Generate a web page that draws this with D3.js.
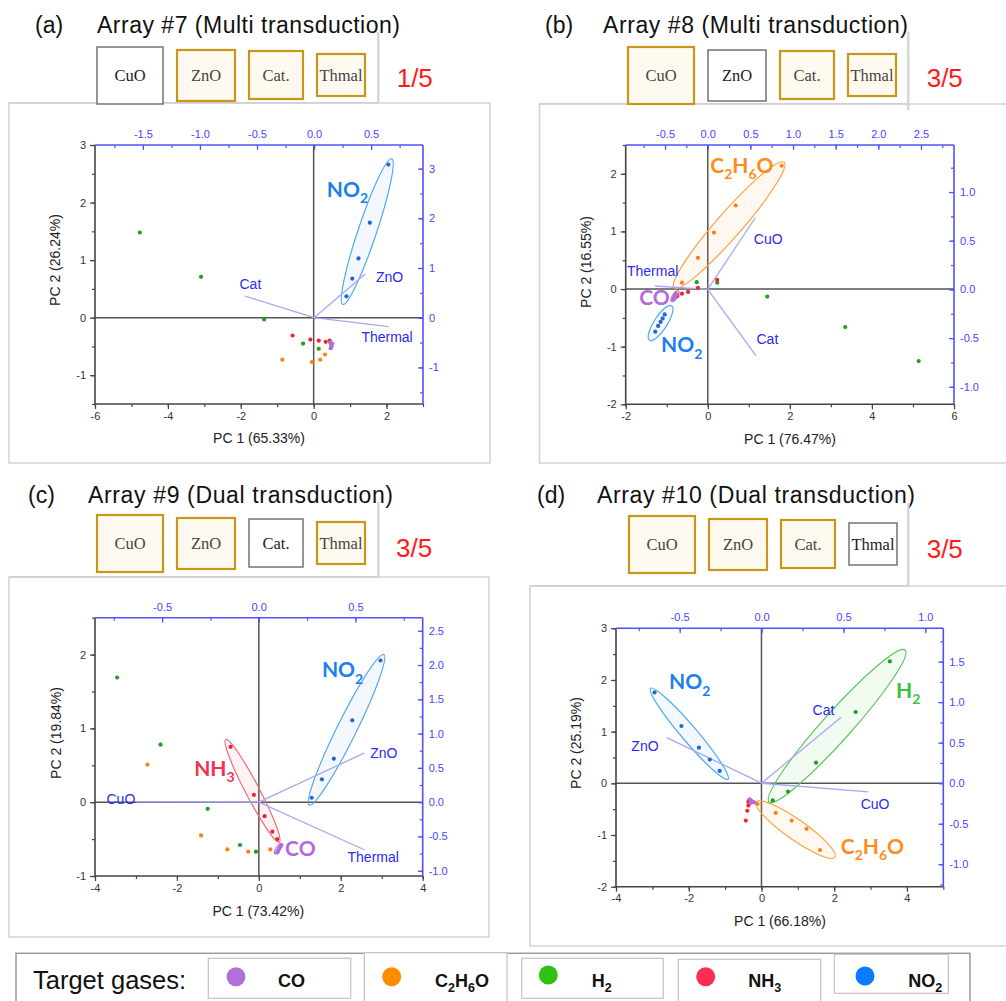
<!DOCTYPE html>
<html><head><meta charset="utf-8">
<script src="https://cdn.jsdelivr.net/npm/d3@7"></script>
<style>body{margin:0;background:#fff}svg{display:block}</style>
</head><body>
<svg id="c" width="1006" height="1001"></svg>
<script>
// ---------------- DATA ----------------
const gases = ["CO", "C2H6O", "H2", "NH3", "NO2"];
const sensorNames = ["CuO", "ZnO", "Cat.", "Thmal"];

// panel (a) Array #7
const activeA = [0, 1, 1, 1];
const scoresA = [
  ["H2",-4.77,1.48],["H2",-3.09,0.71],["H2",-1.36,-0.03],["H2",-0.29,-0.45],["H2",0.14,-0.54],
  ["NH3",-0.58,-0.31],["NH3",-0.09,-0.38],["NH3",0.14,-0.40],["NH3",0.33,-0.42],["NH3",0.44,-0.40],
  ["C2H6O",-0.86,-0.73],["C2H6O",-0.05,-0.77],["C2H6O",0.18,-0.73],["C2H6O",0.31,-0.64],
  ["CO",0.45,-0.43],["CO",0.48,-0.46],["CO",0.49,-0.50],["CO",0.47,-0.53],["CO",0.51,-0.45],
  ["NO2",2.05,2.66],["NO2",1.54,1.65],["NO2",1.23,1.03],["NO2",1.06,0.68],["NO2",0.90,0.37]
];
const loadingsA = [["Cat",-0.608,0.437,-0.558,0.58],["ZnO",0.449,0.879,0.662,0.72],["Thermal",0.653,-0.181,0.64,-0.48]];
const ellipsesA = [["NO2",0.80,0.23,2.14,2.76,0.12]];
const gasLabelsA = [["NO2",0.36,2.10]];
const xDomainA = [-6, 3], yDomainA = [-1.5, 3], topDomainA = [-1.92, 0.955], rightDomainA = [-1.736, 3.475];
const xTicksA = [-6,-4,-2,0,2], yTicksA = [-1,0,1,2,3], topTicksA = [-1.5,-1,-0.5,0,0.5], rightTicksA = [-1,0,1,2,3];

// panel (b) Array #8
const activeB = [1, 0, 1, 1];
const scoresB = [
  ["C2H6O",1.80,2.14],["C2H6O",0.68,1.45],["C2H6O",0.15,0.98],["C2H6O",-0.24,0.54],["C2H6O",-0.63,0.11],
  ["H2",-0.27,0.12],["H2",0.23,0.11],["H2",1.45,-0.13],["H2",3.35,-0.66],["H2",5.14,-1.25],
  ["NH3",0.23,0.16],["NH3",-0.24,0.02],["NH3",-0.48,-0.05],["NH3",-0.63,-0.08],["NH3",-0.74,-0.12],
  ["CO",-0.78,-0.08],["CO",-0.80,-0.12],["CO",-0.82,-0.15],["CO",-0.84,-0.18],["CO",-0.76,-0.10],
  ["NO2",-1.05,-0.44],["NO2",-1.10,-0.51],["NO2",-1.15,-0.57],["NO2",-1.21,-0.64],["NO2",-1.28,-0.74]
];
const loadingsB = [["CuO",0.558,0.736,0.71,0.47],["Cat",0.566,-0.679,0.70,-0.56],["Thermal",-0.618,0.035,-0.645,0.14]];
const ellipsesB = [["C2H6O",-0.82,0.02,1.86,2.2,0.15],["NO2",-0.88,-0.29,-1.42,-0.89,0.32],["CO",-0.72,-0.03,-0.88,-0.22,0.4]];
const gasLabelsB = [["C2H6O",0.06,2.02],["CO",-1.67,-0.28],["NO2",-1.14,-1.10]];
const xDomainB = [-2, 6], yDomainB = [-2, 2.5], topDomainB = [-0.961, 2.887], rightDomainB = [-1.18, 1.483];
const xTicksB = [-2,0,2,4,6], yTicksB = [-2,-1,0,1,2], topTicksB = [-0.5,0,0.5,1,1.5,2,2.5], rightTicksB = [-1,-0.5,0,0.5,1];

// panel (c) Array #9
const activeC = [1, 1, 0, 1];
const scoresC = [
  ["H2",-3.46,1.69],["H2",-2.40,0.78],["H2",-1.25,-0.09],["H2",-0.46,-0.58],["H2",-0.07,-0.67],
  ["C2H6O",-2.72,0.51],["C2H6O",-1.41,-0.45],["C2H6O",-0.77,-0.64],["C2H6O",-0.26,-0.67],["C2H6O",0.28,-0.64],
  ["NH3",-0.69,0.75],["NH3",-0.12,0.10],["NH3",0.14,-0.19],["NH3",0.33,-0.40],["NH3",0.45,-0.50],
  ["CO",0.45,-0.68],["CO",0.47,-0.66],["CO",0.50,-0.63],["CO",0.53,-0.60],["CO",0.55,-0.58],
  ["NO2",2.97,1.92],["NO2",2.28,1.11],["NO2",1.83,0.59],["NO2",1.54,0.31],["NO2",1.29,0.06]
];
const loadingsC = [["CuO",-0.632,0.005,-0.713,-0.03],["ZnO",0.545,0.714,0.647,0.645],["Thermal",0.549,-0.698,0.592,-0.88]];
const ellipsesC = [["NO2",1.23,-0.04,3.05,2.0,0.115],["NH3",-0.81,0.85,0.50,-0.54,0.12],["CO",0.55,-0.56,0.39,-0.70,0.35]];
const gasLabelsC = [["NO2",1.54,1.69],["NH3",-1.58,0.355],["CO",0.64,-0.73]];
const xDomainC = [-4, 4], yDomainC = [-1, 2.5], topDomainC = [-0.847, 0.848], rightDomainC = [-1.077, 2.69];
const xTicksC = [-4,-2,0,2,4], yTicksC = [-1,0,1,2], topTicksC = [-0.5,0,0.5], rightTicksC = [-1,-0.5,0,0.5,1,1.5,2,2.5];

// panel (d) Array #10
const activeD = [1, 1, 1, 0];
const scoresD = [
  ["H2",3.53,2.36],["H2",2.59,1.38],["H2",1.50,0.40],["H2",0.73,-0.16],["H2",0.31,-0.33],
  ["C2H6O",1.61,-1.29],["C2H6O",1.24,-0.88],["C2H6O",0.83,-0.72],["C2H6O",0.39,-0.57],["C2H6O",-0.11,-0.40],
  ["NH3",-0.43,-0.72],["NH3",-0.39,-0.53],["NH3",-0.36,-0.43],["NH3",-0.36,-0.36],["NH3",-0.34,-0.33],
  ["CO",-0.32,-0.31],["CO",-0.28,-0.34],["CO",-0.24,-0.36],["CO",-0.20,-0.37],["CO",-0.30,-0.38],
  ["NO2",-2.94,1.76],["NO2",-2.20,1.11],["NO2",-1.72,0.69],["NO2",-1.42,0.46],["NO2",-1.15,0.24]
];
const loadingsD = [["Cat",0.486,0.815,0.378,0.837],["ZnO",-0.579,0.563,-0.712,0.393],["CuO",0.652,-0.107,0.693,-0.323]];
const ellipsesD = [["NO2",-3.05,1.84,-0.92,0.08,0.13],["H2",0.21,-0.36,3.95,2.58,0.14],["C2H6O",-0.14,-0.36,2.02,-1.43,0.21]];
const gasLabelsD = [["NO2",-2.54,1.82],["H2",3.70,1.66],["C2H6O",2.18,-1.37]];
const xDomainD = [-4, 5], yDomainD = [-2, 3], topDomainD = [-0.889, 1.11], rightDomainD = [-1.277, 1.911];
const xTicksD = [-4,-2,0,2,4], yTicksD = [-2,-1,0,1,2,3], topTicksD = [-0.5,0,0.5,1], rightTicksD = [-1,-0.5,0,0.5,1,1.5];

// ---------------- STYLE ----------------
const pointColor = {CO:"#b46bd8", C2H6O:"#ff7f14", H2:"#1f9f1f", NH3:"#f5222d", NO2:"#1f68d6"};
const ellipseColor = {CO:"#b57ad8", C2H6O:"#ffa040", H2:"#5cc85c", NH3:"#f06a78", NO2:"#55a8f0"};
const labelColor = {CO:"#b46bd8", C2H6O:"#ff8c1a", H2:"#3cbf3c", NH3:"#f2334f", NO2:"#1a7ff2"};
const legendColor = {CO:"#b070d8", C2H6O:"#ff8c00", H2:"#2fc114", NH3:"#ff2d52", NO2:"#0a7bff"};
const BLUE_AX = "#5050ff", DARK_AX = "#444", LOAD_LINE = "#a8a8f2", LOAD_TXT = "#2a2af0";
const GOLD = "#c8961a", SANS = "'Liberation Sans', Arial, sans-serif", SERIF = "'Liberation Serif', 'Times New Roman', serif";

const fmtI = d => (d < 0 ? "-" : "") + Math.abs(d);
const fmt1 = d => (d < 0 ? "-" : "") + Math.abs(d).toFixed(1);

const panels = [
  {tag:"(a)", title:"Array #7 (Multi transduction)", frac:"1/5", active:activeA, scores:scoresA, loadings:loadingsA,
   ellipses:ellipsesA, gasLabels:gasLabelsA, xd:xDomainA, yd:yDomainA, td:topDomainA, rd:rightDomainA,
   xt:xTicksA, yt:yTicksA, tt:topTicksA, rt:rightTicksA, steps:[1,0.5,0.25,0.5], rfmt:fmtI,
   pc1:"PC 1 (65.33%)", pc2:"PC 2 (26.24%)",
   L:{left:95, top:145, right:423, bottom:404, xt:[259,443], yt:[55,260],
      tagX:35, titleX:97, titleW:303, base:33, boxX:97, boxY:47, fracX:396.7, fracY:87.3, shX:378, shY:[32,103],
      frame:[9,103,481,360]}},
  {tag:"(b)", title:"Array #8 (Multi transduction)", frac:"3/5", active:activeB, scores:scoresB, loadings:loadingsB,
   ellipses:ellipsesB, gasLabels:gasLabelsB, xd:xDomainB, yd:yDomainB, td:topDomainB, rd:rightDomainB,
   xt:xTicksB, yt:yTicksB, tt:topTicksB, rt:rightTicksB, steps:[1,0.5,0.25,0.25], rfmt:fmt1,
   pc1:"PC 1 (76.47%)", pc2:"PC 2 (16.55%)",
   L:{left:625.7, top:145, right:954, bottom:404.3, xt:[790,444], yt:[586,262],
      tagX:545, titleX:603, titleW:305, base:33, boxX:628, boxY:47, fracX:926.7, fracY:87.3, shX:908, shY:[32,110],
      frame:[539.5,104,480,359]}},
  {tag:"(c)", title:"Array #9 (Dual transduction)", frac:"3/5", active:activeC, scores:scoresC, loadings:loadingsC,
   ellipses:ellipsesC, gasLabels:gasLabelsC, xd:xDomainC, yd:yDomainC, td:topDomainC, rd:rightDomainC,
   xt:xTicksC, yt:yTicksC, tt:topTicksC, rt:rightTicksC, steps:[1,0.5,0.25,0.25], rfmt:fmt1,
   pc1:"PC 1 (73.42%)", pc2:"PC 2 (19.84%)",
   L:{left:95, top:617.7, right:422.7, bottom:876, xt:[258.3,915.5], yt:[56,733],
      tagX:28, titleX:88, titleW:305, base:503, boxX:97, boxY:515, fracX:396, fracY:557, shX:378, shY:[502,577],
      frame:[9,577,480,360]}},
  {tag:"(d)", title:"Array #10 (Dual transduction)", frac:"3/5", active:activeD, scores:scoresD, loadings:loadingsD,
   ellipses:ellipsesD, gasLabels:gasLabelsD, xd:xDomainD, yd:yDomainD, td:topDomainD, rd:rightDomainD,
   xt:xTicksD, yt:yTicksD, tt:topTicksD, rt:rightTicksD, steps:[1,0.5,0.25,0.25], rfmt:fmt1,
   pc1:"PC 1 (66.18%)", pc2:"PC 2 (25.19%)",
   L:{left:616, top:628.3, right:943.3, bottom:886.7, xt:[780,925.5], yt:[576,743],
      tagX:537, titleX:597, titleW:318, base:503, boxX:629, boxY:516, fracX:926.7, fracY:558.3, shX:908, shY:[503,587],
      frame:[530,586,490,360]}}
];
// relative sensor box geometry [dx, dy, w, h]
const boxGeom = [[0,0,66,57],[80,3,58,51],[152,4,54,48],[220,7,48,42]];

const svg = d3.select("#c");

function addChem(textSel, s, mainSize, subSize) {
  // digits become subscripts; shift in absolute px so baseline returns exactly
  const parts = s.match(/[A-Za-z]+|\d+/g);
  const shift = mainSize * 0.3;
  let sub = false;
  parts.forEach(p => {
    const isNum = /\d/.test(p);
    const t = textSel.append("tspan").text(p);
    if (isNum) { t.attr("font-size", subSize).attr("dy", shift); sub = true; }
    else if (sub) { t.attr("dy", -shift); sub = false; }
  });
}
function minorVals(domain, step) {
  const lo = Math.ceil(Math.min(...domain) / step - 1e-9) * step;
  const hi = Math.max(...domain);
  return d3.range(lo, hi + 1e-9, step);
}

function drawPanel(p) {
  const L = p.L;
  const g = svg.append("g");
  // frame box
  g.append("rect").attr("x", L.frame[0]).attr("y", L.frame[1]).attr("width", L.frame[2]).attr("height", L.frame[3])
    .attr("fill", "none").attr("stroke", "#d2d2d2").attr("stroke-width", 1.5);
  // header
  g.append("text").attr("x", L.tagX).attr("y", L.base).text(p.tag)
    .attr("font-family", SANS).attr("font-size", 23).attr("fill", "#111");
  g.append("text").attr("x", L.titleX).attr("y", L.base).text(p.title)
    .attr("font-family", SANS).attr("font-size", 23).attr("fill", "#111")
    .attr("textLength", L.titleW).attr("lengthAdjust", "spacing");
  g.append("rect").attr("x", L.shX - 1).attr("y", L.shY[0]).attr("width", 2.5).attr("height", L.shY[1] - L.shY[0]).attr("fill", "#d6d6d6");
  g.append("rect").attr("x", L.frame[0]).attr("y", L.frame[1] - 1).attr("width", L.shX - L.frame[0]).attr("height", 1.5).attr("fill", "#cfcfcf");
  sensorNames.forEach((nm, i) => {
    const [dx, dy, w, h] = boxGeom[i];
    const on = p.active[i] === 1;
    g.append("rect").attr("x", L.boxX + dx).attr("y", L.boxY + dy).attr("width", w).attr("height", h)
      .attr("fill", on ? "#fffaf0" : "#fff").attr("stroke", on ? GOLD : "#737373").attr("stroke-width", on ? 2.2 : 1.5);
    g.append("text").attr("x", L.boxX + dx + w / 2).attr("y", L.boxY + dy + h / 2 + 5.5).attr("text-anchor", "middle")
      .attr("font-family", SERIF).attr("font-size", 16.5).attr("fill", on ? "#444" : "#222").text(nm);
  });
  g.append("text").attr("x", L.fracX).attr("y", L.fracY).text(p.frac)
    .attr("font-family", SANS).attr("font-size", 26).attr("fill", "#ff1a1a");

  // scales
  const x = d3.scaleLinear().domain(p.xd).range([L.left, L.right]);
  const y = d3.scaleLinear().domain(p.yd).range([L.bottom, L.top]);
  const tx = d3.scaleLinear().domain(p.td).range([L.left, L.right]);
  const ry = d3.scaleLinear().domain(p.rd).range([L.bottom, L.top]);

  // zero lines
  g.append("line").attr("x1", x(0)).attr("x2", x(0)).attr("y1", L.top).attr("y2", L.bottom).attr("stroke", "#555").attr("stroke-width", 1.5);
  g.append("line").attr("x1", L.left).attr("x2", L.right).attr("y1", y(0)).attr("y2", y(0)).attr("stroke", "#555").attr("stroke-width", 1.5);

  // ellipses
  p.ellipses.forEach(([gas, x1, y1, x2, y2, r]) => {
    const px1 = x(x1), py1 = y(y1), px2 = x(x2), py2 = y(y2);
    const a = Math.hypot(px2 - px1, py2 - py1) / 2;
    const ang = Math.atan2(py2 - py1, px2 - px1) * 180 / Math.PI;
    g.append("ellipse").attr("rx", a).attr("ry", a * r)
      .attr("transform", `translate(${(px1 + px2) / 2},${(py1 + py2) / 2}) rotate(${ang})`)
      .attr("fill", ellipseColor[gas]).attr("fill-opacity", 0.08)
      .attr("stroke", ellipseColor[gas]).attr("stroke-width", 1.2);
  });

  // loadings
  p.loadings.forEach(([nm, lx, ly, tlx, tly]) => {
    g.append("line").attr("x1", tx(0)).attr("y1", ry(0)).attr("x2", tx(lx)).attr("y2", ry(ly))
      .attr("stroke", LOAD_LINE).attr("stroke-width", 1.3);
    g.append("text").attr("x", tx(tlx)).attr("y", ry(tly)).attr("text-anchor", "middle")
      .attr("font-family", SANS).attr("font-size", 14).attr("fill", LOAD_TXT).text(nm);
  });

  // points
  g.selectAll("circle.pt").data(p.scores).join("circle").attr("class", "pt")
    .attr("cx", d => x(d[1])).attr("cy", d => y(d[2])).attr("r", 2.1).attr("fill", d => pointColor[d[0]]);

  // gas labels
  p.gasLabels.forEach(([gas, gx, gy]) => {
    const t = g.append("text").attr("x", x(gx)).attr("y", y(gy))
      .attr("font-family", "Lato, 'Open Sans', sans-serif").attr("font-weight", 700).attr("font-size", 21)
      .attr("fill", labelColor[gas]);
    addChem(t, gas, 21, 14);
  });

  // axes
  const styleAx = (sel, col) => {
    sel.select(".domain").remove();
    sel.selectAll("line").attr("stroke", col).attr("stroke-width", 1.2);
    sel.selectAll("text").attr("fill", col === BLUE_AX ? "#4646ff" : "#333").attr("font-size", 11).attr("font-family", SANS);
  };
  const minorAx = (axis, scale, vals, size, tr, col) => {
    g.append("g").attr("transform", tr).call(axis(scale).tickValues(vals).tickSize(size).tickFormat(""))
      .call(s => styleAx(s, col));
  };
  minorAx(d3.axisBottom, x, minorVals(p.xd, p.steps[0]), 3, `translate(0,${L.bottom})`, DARK_AX);
  minorAx(d3.axisLeft, y, minorVals(p.yd, p.steps[1]), 3, `translate(${L.left},0)`, DARK_AX);
  minorAx(d3.axisTop, tx, minorVals(p.td, p.steps[2]), -3, `translate(0,${L.top})`, BLUE_AX);
  minorAx(d3.axisRight, ry, minorVals(p.rd, p.steps[3]), -3, `translate(${L.right},0)`, BLUE_AX);

  g.append("g").attr("transform", `translate(0,${L.bottom})`)
    .call(d3.axisBottom(x).tickValues(p.xt).tickSize(5).tickPadding(3).tickFormat(fmtI)).call(s => styleAx(s, DARK_AX));
  g.append("g").attr("transform", `translate(${L.left},0)`)
    .call(d3.axisLeft(y).tickValues(p.yt).tickSize(5).tickPadding(4).tickFormat(fmtI)).call(s => styleAx(s, DARK_AX));
  g.append("g").attr("transform", `translate(0,${L.top})`)
    .call(d3.axisTop(tx).tickValues(p.tt).tickSize(-5).tickPadding(7).tickFormat(fmt1)).call(s => styleAx(s, BLUE_AX));
  g.append("g").attr("transform", `translate(${L.right},0)`)
    .call(d3.axisRight(ry).tickValues(p.rt).tickSize(-5).tickPadding(6).tickFormat(p.rfmt)).call(s => styleAx(s, BLUE_AX));

  // frame lines
  g.append("line").attr("x1", L.left).attr("x2", L.left).attr("y1", L.top).attr("y2", L.bottom).attr("stroke", DARK_AX).attr("stroke-width", 1.6);
  g.append("line").attr("x1", L.left).attr("x2", L.right).attr("y1", L.bottom).attr("y2", L.bottom).attr("stroke", DARK_AX).attr("stroke-width", 1.6);
  g.append("line").attr("x1", L.left).attr("x2", L.right).attr("y1", L.top).attr("y2", L.top).attr("stroke", BLUE_AX).attr("stroke-width", 1.6);
  g.append("line").attr("x1", L.right).attr("x2", L.right).attr("y1", L.top).attr("y2", L.bottom).attr("stroke", BLUE_AX).attr("stroke-width", 1.6);

  // axis titles
  g.append("text").attr("x", L.xt[0]).attr("y", L.xt[1]).attr("text-anchor", "middle")
    .attr("font-family", SANS).attr("font-size", 14).attr("fill", "#222").text(p.pc1);
  g.append("text").attr("transform", `translate(${L.yt[0]},${L.yt[1]}) rotate(-90)`).attr("dy", "0.35em").attr("text-anchor", "middle")
    .attr("font-family", SANS).attr("font-size", 14).attr("fill", "#222").text(p.pc2);
}

panels.forEach(drawPanel);

// ---------------- LEGEND ----------------
const legendBoxes = [[208.3,958.3,142.4,40],[364.3,952.7,142.7,60],[521.7,958.3,141.6,40],[678.3,959.3,142.4,45],[834.3,954.3,114,39]];
const legendDots = [[236,976.7],[391.7,976.7],[548.3,975],[705.7,976.7],[865,976]];
const legendTextX = [278,435,591.7,748.3,908.3];
const lg = svg.append("g");
lg.append("rect").attr("x", 16).attr("y", 953.3).attr("width", 954).attr("height", 70).attr("fill", "none").attr("stroke", "#9a9a9a").attr("stroke-width", 1.5);
lg.append("text").attr("x", 33).attr("y", 989).attr("font-family", SANS).attr("font-size", 25.5).attr("fill", "#111").text("Target gases:");
gases.forEach((gas, i) => {
  const b = legendBoxes[i];
  lg.append("rect").attr("x", b[0]).attr("y", b[1]).attr("width", b[2]).attr("height", b[3]).attr("fill", "#fff").attr("stroke", "#c4c4c4").attr("stroke-width", 1.2);
  lg.append("circle").attr("cx", legendDots[i][0]).attr("cy", legendDots[i][1]).attr("r", 9.5).attr("fill", legendColor[gas]);
  const t = lg.append("text").attr("x", legendTextX[i]).attr("y", 986.5).attr("font-family", SANS).attr("font-weight", 700).attr("font-size", 18).attr("fill", "#111");
  addChem(t, gas, 18, 12.5);
});
</script>
</body></html>
